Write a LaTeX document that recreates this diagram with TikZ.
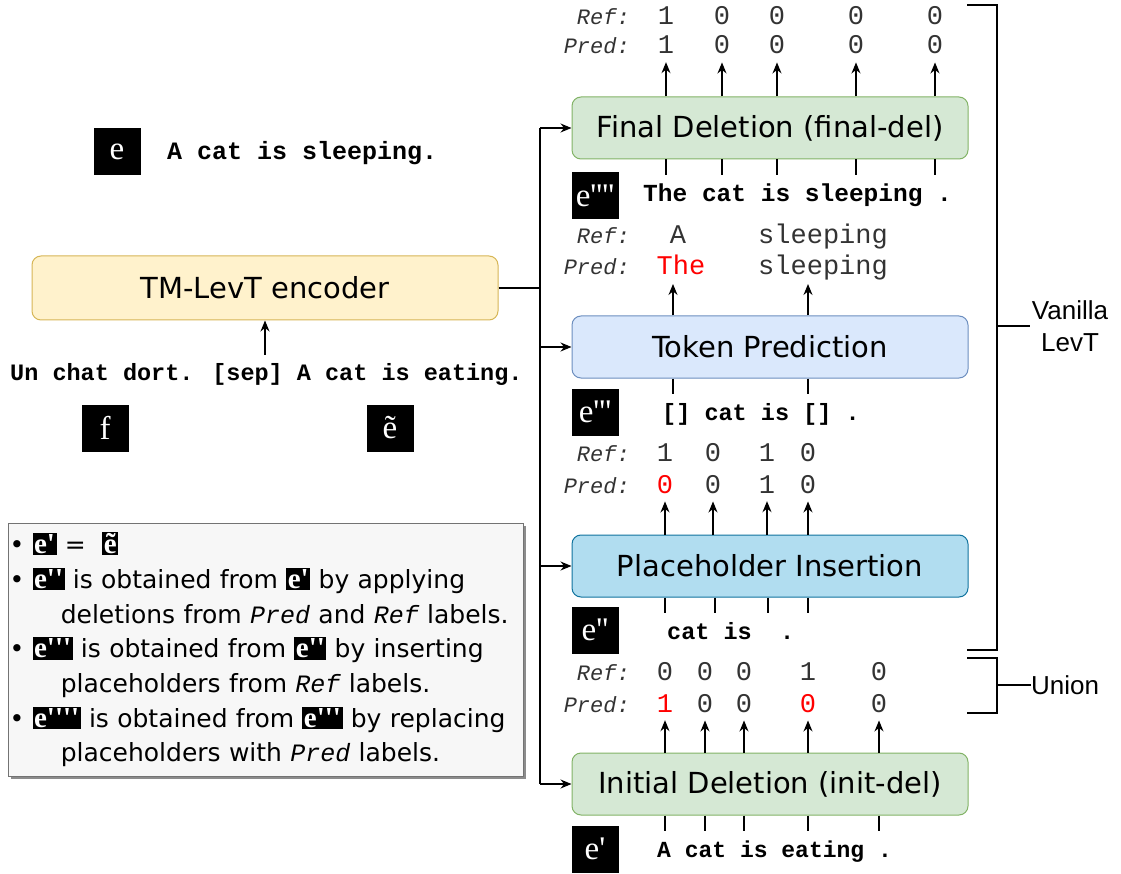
\documentclass[tikz,border=0pt]{standalone}
\usepackage{fontspec}
\setmainfont{DejaVu Sans}
\newfontfamily\arialfont{Liberation Sans}
\newfontfamily\codefont{Liberation Mono}
\newfontfamily\efont[Ligatures=TeXOff]{Liberation Serif}
\usetikzlibrary{arrows.meta, positioning, calc, shadows}

\definecolor{delfill}{HTML}{D5E8D4}
\definecolor{deldraw}{HTML}{82B366}
\definecolor{tokfill}{HTML}{DAE8FC}
\definecolor{tokdraw}{HTML}{6C8EBF}
\definecolor{insfill}{HTML}{B1DDF0}
\definecolor{insdraw}{HTML}{10739E}
\definecolor{encfill}{HTML}{FFF2CC}
\definecolor{encdraw}{HTML}{D6B656}
\definecolor{digit}{HTML}{333333}

\newcommand{\eb}[1]{{\setlength{\fboxsep}{1.5pt}\colorbox{black}{\efont\bfseries\fontsize{29}{29}\selectfont\color{white}#1}}}
\newcommand{\lab}[1]{{\codefont\itshape #1}}

\tikzset{
  stage/.style={rectangle, rounded corners=9pt, draw, line width=1pt, minimum width=396pt, minimum height=62pt, font=\fontsize{29}{33}\selectfont},
  ebig/.style={rectangle, fill=black, text=white, minimum width=47pt, minimum height=47pt, inner sep=0pt, font=\efont\fontsize{33}{33}\selectfont},
  tok/.style={anchor=base, inner sep=1pt, text=digit, font=\codefont\fontsize{27}{27}\selectfont},
  lbl/.style={anchor=base east, inner sep=0pt, text=digit, font=\codefont\itshape\fontsize{22}{22}\selectfont},
  sent/.style={anchor=base west, inner sep=0pt, font=\codefont\bfseries\fontsize{23.5}{23.5}\selectfont},
  arr/.style={-{Stealth[length=11pt,width=9pt]}, line width=1.2pt},
  line/.style={line width=1.2pt},
  legend/.style={rectangle, draw=black!55, fill=black!3, line width=1pt, text width=512pt, inner xsep=1.5pt, minimum height=253pt, align=left, drop shadow={shadow xshift=3pt, shadow yshift=-3pt, fill=black!45, opacity=1}, font=\fontsize{25}{34.7}\selectfont}
}

\begin{document}
\begin{tikzpicture}[x=1pt, y=-1pt]
	\useasboundingbox (0,0) rectangle (1121,874);

	% encoder and its inputs
	\node[stage, fill=encfill, draw=encdraw, minimum width=466pt, minimum height=64pt] (ENC) at (265,288) {TM-LevT encoder};
	\node[sent] (src) at (10,380) {Un chat dort. [sep] A cat is eating.};
	\draw[arr] ([yshift=8pt]src.north -| ENC.south) -- (ENC.south);
	\node[ebig] (e) at (117,152) {e};
	\node[sent, font=\codefont\bfseries\fontsize{25}{25}\selectfont] (tgt) at (167,160) {A cat is sleeping.};
	\node[ebig] (f) at (105,428) {f};
	\node[ebig] (et) at (390,428) {ẽ};

	% the four stages
	\node[stage, fill=delfill, draw=deldraw] (FD) at (770,128) {Final Deletion (final-del)};
	\node[stage, fill=tokfill, draw=tokdraw] (TP) at (770,347) {Token Prediction};
	\node[stage, fill=insfill, draw=insdraw] (PI) at (770,566) {Placeholder Insertion};
	\node[stage, fill=delfill, draw=deldraw] (ID) at (770,784) {Initial Deletion (init-del)};

	\coordinate (spine) at (540,0);
	\draw[line] (ENC.east) -- (ENC.east -| spine);
	\draw[line] (spine |- FD.west) -- (spine |- ID.west);
	\foreach \b in {FD,TP,PI,ID}
		\draw[arr] (spine |- \b.west) -- (\b.west);

	% final-del labels
	\node[lbl] (fdr) at (630,25) {Ref:};
	\node[lbl] (fdp) at (630,54) {Pred:};
	\foreach \x/\r/\p [count=\i] in {666/1/1, 722/0/0, 777/0/0, 856/0/0, 935/0/0} {
		\node[tok] (fr\i) at (\x,25) {\r};
		\node[tok] (fp\i) at (\x,54) {\p};
		\draw[arr] (FD.north -| fp\i) -- ([yshift=-7pt]fp\i.south);
		\draw[line] (FD.south -| fp\i) -- ++(0,16);
	}
	\node[ebig] (e4) at (595,196) {e''''};
	\node[sent, font=\codefont\bfseries\fontsize{24.5}{24.5}\selectfont] (s4) at (643,202) {The cat is sleeping .};

	% token prediction labels
	\node[lbl] (tpr) at (630,244) {Ref:};
	\node[lbl] (tpp) at (630,275) {Pred:};
	\node[tok] (tr1) at (678,244) {A};
	\node[tok] (tr2) at (823,244) {sleeping};
	\node[tok, text=red] (tp1) at (681,275) {The};
	\node[tok] (tp2) at (823,275) {sleeping};
	\coordinate (tx1) at (673,284);
	\coordinate (tx2) at (808,284);
	\foreach \c in {tx1,tx2} {
		\draw[arr] (TP.north -| \c) -- (\c);
		\draw[line] (TP.south -| \c) -- ++(0,15);
	}
	\node[ebig] (e3) at (595,412) {e'''};
	\node[sent] (s3) at (662,420) {[] cat is [] .};

	% placeholder insertion labels
	\node[lbl] (pir) at (630,461) {Ref:};
	\node[lbl] (pip) at (630,493) {Pred:};
	\foreach \x/\r/\p/\c [count=\i] in {665/1/0/red, 713/0/0/digit, 767/1/1/digit, 808/0/0/digit} {
		\node[tok] (ir\i) at (\x,461) {\r};
		\node[tok, text=\c] (ip\i) at (\x,493) {\p};
		\draw[arr] (PI.north -| ip\i) -- ([yshift=-7pt]ip\i.south);
	}
	\foreach \x in {665,715,768,808}
		\draw[line] (PI.south -| \x,0) -- ++(0,15);
	\node[ebig] (e2) at (595,630) {e''};
	\node[sent] (s2) at (667,639) {cat is\ \ .};

	% initial deletion labels
	\node[lbl] (idr) at (630,680) {Ref:};
	\node[lbl] (idp) at (630,712) {Pred:};
	\foreach \x/\r/\p/\c [count=\i] in {665/0/1/red, 705/0/0/digit, 744/0/0/digit, 808/1/0/red, 879/0/0/digit} {
		\node[tok] (dr\i) at (\x,680) {\r};
		\node[tok, text=\c] (dp\i) at (\x,712) {\p};
		\draw[arr] (ID.north -| dp\i) -- ([yshift=-7pt]dp\i.south);
		\draw[line] (ID.south -| dp\i) -- ++(0,15);
	}
	\node[ebig] (e1) at (595,849) {e'};
	\node[sent, font=\codefont\bfseries\fontsize{23}{23}\selectfont] (s1) at (657,857) {A cat is eating .};

	% brackets
	\node[align=center, inner sep=0pt, font=\arialfont\fontsize{26}{32}\selectfont] (van) at (1070,326) {Vanilla\\LevT};
	\draw[line] (967,5) -- (997,5) -- (997,650) -- (967,650);
	\draw[line] (997,326) -- ([xshift=-2pt]van.west);
	\node[anchor=west, inner sep=0pt, font=\arialfont\fontsize{26}{32}\selectfont] (uni) at (1031,685) {Union};
	\draw[line] (967,658) -- (997,658) -- (997,713) -- (967,713);
	\draw[line] (997,685) -- (uni.west);

	% legend
	\node[legend] (leg) at (265.5,649.5) {%
		\mbox{\textbullet\ \eb{e'} = \ \eb{ẽ}}\\
		\mbox{\textbullet\ \eb{e''} is obtained from \eb{e'} by applying}\\
		\mbox{\hspace*{2.05em}deletions from \lab{Pred} and \lab{Ref} labels.}\\
		\mbox{\textbullet\ \eb{e'''} is obtained from \eb{e''} by inserting}\\
		\mbox{\hspace*{2.05em}placeholders from \lab{Ref} labels.}\\
		\mbox{\textbullet\ \eb{e''''} is obtained from \eb{e'''} by replacing}\\
		\mbox{\hspace*{2.05em}placeholders with \lab{Pred} labels.}};
\end{tikzpicture}
\end{document}
